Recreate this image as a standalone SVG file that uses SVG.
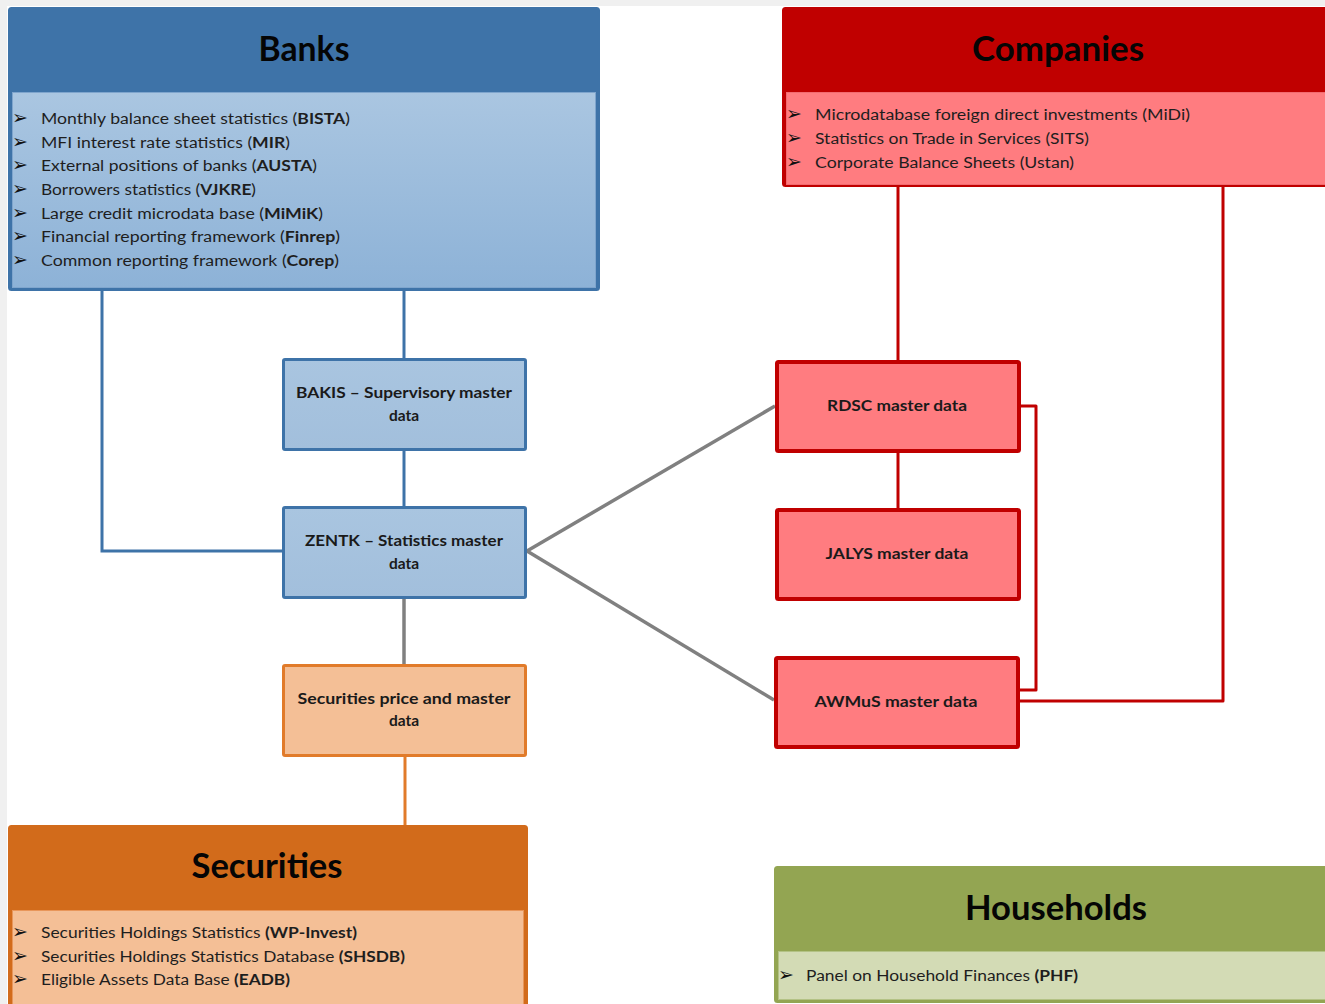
<svg xmlns="http://www.w3.org/2000/svg" width="1325" height="1004" viewBox="0 0 1325 1004">
<defs>
<linearGradient id="gBlue" x1="0" y1="0" x2="0" y2="1"><stop offset="0" stop-color="#aac6e1"/><stop offset="1" stop-color="#8db2d7"/></linearGradient>
<linearGradient id="gNode" x1="0" y1="0" x2="0" y2="1"><stop offset="0" stop-color="#a9c5e0"/><stop offset="1" stop-color="#a2bfdc"/></linearGradient>
</defs>
<style>
.t{font-family:Lato,"Open Sans","Liberation Sans",sans-serif;fill:#1e1e1e}
.title{font-family:Lato,"Open Sans","Liberation Sans",sans-serif;font-weight:bold;font-size:34px;fill:#050505;text-anchor:middle}
.it{font-size:15.5px}
.b{font-weight:bold}
.bul{font-family:"DejaVu Sans",sans-serif;font-size:19px;fill:#111}
.nt{font-family:Lato,"Open Sans","Liberation Sans",sans-serif;font-weight:bold;font-size:15.5px;fill:#1a1a1a;text-anchor:middle}
.blue{stroke:#3e73a8;stroke-width:3;fill:none}
.gray{stroke:#808080;stroke-width:3.5;fill:none}
.orange{stroke:#e17b2a;stroke-width:3;fill:none}
.red{stroke:#c00000;stroke-width:3;fill:none;stroke-linejoin:round}
</style>
<rect x="0" y="0" width="1325" height="1004" fill="#f0f0f0"/>
<rect x="7" y="6" width="1318" height="998" fill="#ffffff"/>

<g id="connectors">
<polyline class="blue" points="102,291 102,551 282,551"/>
<line class="blue" x1="404" y1="291" x2="404" y2="358"/>
<line class="blue" x1="404" y1="451" x2="404" y2="506"/>
<line class="gray" x1="404" y1="599" x2="404" y2="664"/>
<line class="gray" x1="527" y1="551" x2="775" y2="406"/>
<line class="gray" x1="527" y1="551" x2="774" y2="700"/>
<line class="orange" x1="405" y1="757" x2="405" y2="825"/>
<line class="red" x1="898" y1="187" x2="898" y2="360"/>
<line class="red" x1="898" y1="452" x2="898" y2="508"/>
<polyline class="red" points="1223,187 1223,701 1019,701"/>
<polyline class="red" points="1020,406 1036,406 1036,690 1019,690"/>
</g>

<g id="banks">
<rect x="9.5" y="8.5" width="589" height="281" fill="#3e73a8" stroke="#3e73a8" stroke-width="3" rx="2"/>
<rect x="12.5" y="92.5" width="583" height="195" fill="url(#gBlue)" stroke="#7fa5cd" stroke-width="1"/>
<text class="title" x="304" y="61" textLength="91" lengthAdjust="spacingAndGlyphs">Banks</text>
<g class="bul"><text x="12" y="124">➢</text><text x="12" y="148">➢</text><text x="12" y="171">➢</text><text x="12" y="195">➢</text><text x="12" y="219">➢</text><text x="12" y="242">➢</text><text x="12" y="266">➢</text></g>
<text class="t it" x="41" y="123.5" textLength="309" lengthAdjust="spacingAndGlyphs">Monthly balance sheet statistics (<tspan class="b">BISTA</tspan>)</text>
<text class="t it" x="41" y="147.5" textLength="249" lengthAdjust="spacingAndGlyphs">MFI interest rate statistics (<tspan class="b">MIR</tspan>)</text>
<text class="t it" x="41" y="170.5" textLength="276" lengthAdjust="spacingAndGlyphs">External positions of banks (<tspan class="b">AUSTA</tspan>)</text>
<text class="t it" x="41" y="194.5" textLength="215" lengthAdjust="spacingAndGlyphs">Borrowers statistics (<tspan class="b">VJKRE</tspan>)</text>
<text class="t it" x="41" y="218.5" textLength="282" lengthAdjust="spacingAndGlyphs">Large credit microdata base (<tspan class="b">MiMiK</tspan>)</text>
<text class="t it" x="41" y="241.5" textLength="299" lengthAdjust="spacingAndGlyphs">Financial reporting framework (<tspan class="b">Finrep</tspan>)</text>
<text class="t it" x="41" y="265.5" textLength="298" lengthAdjust="spacingAndGlyphs">Common reporting framework (<tspan class="b">Corep</tspan>)</text>
</g>

<g id="companies">
<rect x="783.5" y="8.5" width="560" height="177" fill="#c00000" stroke="#c00000" stroke-width="3" rx="2"/>
<rect x="786.5" y="92.5" width="560" height="92" fill="#ff7c80" stroke="#f26b70" stroke-width="1"/>
<text class="title" x="1058" y="61" textLength="172" lengthAdjust="spacingAndGlyphs">Companies</text>
<g class="bul"><text x="786" y="120">➢</text><text x="786" y="144">➢</text><text x="786" y="168">➢</text></g>
<text class="t it" x="815" y="119.5" textLength="375" lengthAdjust="spacingAndGlyphs">Microdatabase foreign direct investments (MiDi)</text>
<text class="t it" x="815" y="143.5" textLength="274" lengthAdjust="spacingAndGlyphs">Statistics on Trade in Services (SITS)</text>
<text class="t it" x="815" y="167.5" textLength="259" lengthAdjust="spacingAndGlyphs">Corporate Balance Sheets (Ustan)</text>
</g>

<g id="bakis">
<rect x="283.5" y="359.5" width="242" height="90" fill="url(#gNode)" stroke="#3e73a8" stroke-width="3" rx="1.5"/>
<text class="nt" x="404" y="397.5" textLength="216" lengthAdjust="spacingAndGlyphs">BAKIS – Supervisory master</text>
<text class="nt" x="404" y="420.5">data</text>
</g>

<g id="zentk">
<rect x="283.5" y="507.5" width="242" height="90" fill="url(#gNode)" stroke="#3e73a8" stroke-width="3" rx="1.5"/>
<text class="nt" x="404" y="545.5" textLength="198" lengthAdjust="spacingAndGlyphs">ZENTK – Statistics master</text>
<text class="nt" x="404" y="568.5">data</text>
</g>

<g id="secprice">
<rect x="283.5" y="665.5" width="242" height="90" fill="#f4bf96" stroke="#e17b2a" stroke-width="3" rx="1.5"/>
<text class="nt" x="404" y="703.5" textLength="213" lengthAdjust="spacingAndGlyphs">Securities price and master</text>
<text class="nt" x="404" y="726">data</text>
</g>

<g id="rdsc">
<rect x="777" y="362" width="242" height="89" fill="#ff7c80" stroke="#c00000" stroke-width="4" rx="1.5"/>
<text class="nt" x="897" y="410.5" textLength="140" lengthAdjust="spacingAndGlyphs">RDSC master data</text>
</g>

<g id="jalys">
<rect x="777" y="510" width="242" height="89" fill="#ff7c80" stroke="#c00000" stroke-width="4" rx="1.5"/>
<text class="nt" x="897" y="558.5" textLength="143" lengthAdjust="spacingAndGlyphs">JALYS master data</text>
</g>

<g id="awmus">
<rect x="776" y="658" width="242" height="89" fill="#ff7c80" stroke="#c00000" stroke-width="4" rx="1.5"/>
<text class="nt" x="896" y="706.5" textLength="163" lengthAdjust="spacingAndGlyphs">AWMuS master data</text>
</g>

<g id="securities">
<rect x="9.5" y="826.5" width="517" height="190" fill="#d26b1b" stroke="#d26b1b" stroke-width="3" rx="2"/>
<rect x="12.5" y="910.5" width="511" height="100" fill="#f4bf96" stroke="#e8965a" stroke-width="1"/>
<text class="title" x="267" y="878" textLength="151" lengthAdjust="spacingAndGlyphs">Securities</text>
<g class="bul"><text x="12" y="938">➢</text><text x="12" y="962">➢</text><text x="12" y="985">➢</text></g>
<text class="t it" x="41" y="937.5" textLength="316" lengthAdjust="spacingAndGlyphs">Securities Holdings Statistics <tspan class="b">(WP-Invest)</tspan></text>
<text class="t it" x="41" y="961.5" textLength="364" lengthAdjust="spacingAndGlyphs">Securities Holdings Statistics Database <tspan class="b">(SHSDB)</tspan></text>
<text class="t it" x="41" y="984.5" textLength="249" lengthAdjust="spacingAndGlyphs">Eligible Assets Data Base <tspan class="b">(EADB)</tspan></text>
</g>

<g id="households">
<rect x="775.5" y="867.5" width="570" height="134" fill="#93a552" stroke="#93a552" stroke-width="3" rx="2"/>
<rect x="778.5" y="951.5" width="570" height="48" fill="#d3dbb5" stroke="#b3c285" stroke-width="1"/>
<text class="title" x="1056" y="920" textLength="182" lengthAdjust="spacingAndGlyphs">Households</text>
<g class="bul"><text x="778" y="981">➢</text></g>
<text class="t it" x="806" y="980.5" textLength="272" lengthAdjust="spacingAndGlyphs">Panel on Household Finances <tspan class="b">(PHF)</tspan></text>
</g>
</svg>
